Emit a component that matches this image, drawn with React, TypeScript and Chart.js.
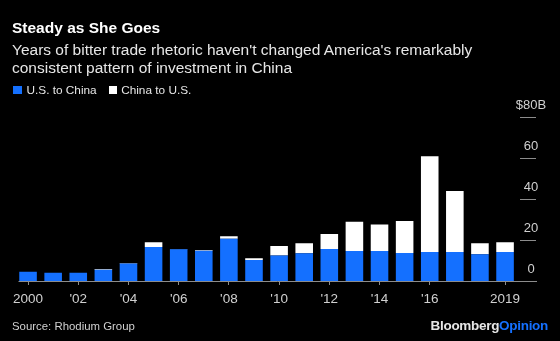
import React, { useEffect, useRef } from "react";
import { Chart, registerables } from "chart.js";

Chart.register(...registerables);

const years = ["2000","2001","2002","2003","2004","2005","2006","2007","2008","2009","2010","2011","2012","2013","2014","2015","2016","2017","2018","2019"];
const xTickLabels: Record<string, string> = { "2000": "2000", "2002": "'02", "2004": "'04", "2006": "'06", "2008": "'08", "2010": "'10", "2012": "'12", "2014": "'14", "2016": "'16", "2019": "2019" };
const usToChina = [4.5, 4.0, 4.0, 5.5, 8.5, 16.6, 15.5, 14.8, 20.6, 10.2, 12.5, 13.5, 15.6, 14.6, 14.6, 13.7, 14.1, 14.1, 13.0, 14.1];
const chinaToUS = [0, 0, 0, 0.3, 0.3, 2.3, 0.1, 0.3, 1.2, 0.9, 4.6, 4.9, 7.3, 14.3, 13.0, 15.6, 46.7, 29.8, 5.4, 4.8];
const yTicks = [0, 20, 40, 60, 80];
const yTickLabels = ["0", "20", "40", "60", "$80B"];

const BLUE = "#1470ff";
const FONT = "'Liberation Sans', Arial, Helvetica, sans-serif";

const rightAxisPlugin = {
  id: "rightAxis",
  afterDraw(chart: any) {
    const ctx = chart.ctx;
    const y = chart.scales.y;
    const area = chart.chartArea;
    ctx.save();
    ctx.strokeStyle = "#8c8c8c";
    ctx.lineWidth = 1;
    const y0 = Math.round(y.getPixelForValue(0)) + 0.5;
    ctx.beginPath();
    ctx.moveTo(area.left + 3, y0);
    ctx.lineTo(537, y0);
    ctx.stroke();
    ctx.fillStyle = "#d0d0d0";
    ctx.font = "13px " + FONT;
    ctx.textAlign = "center";
    ctx.textBaseline = "middle";
    yTicks.forEach((v, i) => {
      const py = Math.round(y.getPixelForValue(v)) + 0.5;
      if (v !== 0) {
        ctx.beginPath();
        ctx.moveTo(520, py);
        ctx.lineTo(536, py);
        ctx.stroke();
      }
      ctx.fillText(yTickLabels[i], 531, py - 12);
    });
    ctx.restore();
  },
};

export default function App() {
  const ref = useRef<HTMLCanvasElement | null>(null);
  useEffect(() => {
    document.body.style.margin = "0";
    document.body.style.background = "#000";
    const chart = new Chart(ref.current!, {
      type: "bar",
      data: {
        labels: years,
        datasets: [
          { label: "U.S. to China", data: usToChina, backgroundColor: BLUE, borderWidth: 0, barPercentage: 0.7, categoryPercentage: 1 },
          { label: "China to U.S.", data: chinaToUS, backgroundColor: "#ffffff", borderWidth: 0, barPercentage: 0.7, categoryPercentage: 1 },
        ],
      },
      options: {
        responsive: false,
        animation: false,
        layout: { padding: { left: 15.5, right: 42.4, top: 117, bottom: 0 } },
        plugins: { legend: { display: false }, tooltip: { enabled: false } },
        scales: {
          x: {
            stacked: true,
            afterFit: (s: any) => { s.height = 60; },
            border: { display: false },
            grid: {
              offset: false,
              drawOnChartArea: false,
              drawTicks: true,
              tickLength: 4,
              color: (c: any) => (xTickLabels[years[c.index]] ? "#8c8c8c" : "rgba(0,0,0,0)"),
            },
            ticks: {
              autoSkip: false,
              maxRotation: 0,
              padding: 6,
              color: "#d0d0d0",
              font: { family: FONT, size: 13.5 },
              callback: (_v: any, i: number) => xTickLabels[years[i]] || "",
            },
          },
          y: { stacked: true, display: false, min: 0, max: 80 },
        },
      },
      plugins: [rightAxisPlugin],
    });
    return () => chart.destroy();
  }, []);

  return (
    <div style={{ position: "fixed", left: 0, top: 0, width: 560, height: 341, background: "#000", fontFamily: FONT, overflow: "hidden" }}>
      <canvas ref={ref} width={560} height={341} style={{ position: "absolute", left: 0, top: 0 }} />
      <div style={{ position: "absolute", left: 12, top: 18, color: "#fff", fontWeight: "bold", fontSize: 15.5, lineHeight: "20px" }}>Steady as She Goes</div>
      <div style={{ position: "absolute", left: 12, top: 41, width: 545, color: "#e6e6e6", fontSize: 15.5, lineHeight: "17.5px" }}>
        Years of bitter trade rhetoric haven't changed America's remarkably<br />consistent pattern of investment in China
      </div>
      <div style={{ position: "absolute", left: 13, top: 82, color: "#e6e6e6", fontSize: 11.8, lineHeight: "16px", display: "flex", alignItems: "center" }}>
        <span style={{ display: "inline-block", width: 8.5, height: 8.5, background: BLUE, marginRight: 5 }} />
        <span>U.S. to China</span>
        <span style={{ display: "inline-block", width: 8.5, height: 8.5, background: "#fff", marginLeft: 12, marginRight: 4 }} />
        <span>China to U.S.</span>
      </div>
      <div style={{ position: "absolute", left: 12, top: 318, color: "#d0d0d0", fontSize: 11.4, lineHeight: "16px" }}>Source: Rhodium Group</div>
      <div style={{ position: "absolute", right: 12, top: 318, fontSize: 13.5, lineHeight: "16px", fontWeight: "bold", letterSpacing: -0.3 }}>
        <span style={{ color: "#e6e6e6" }}>Bloomberg</span><span style={{ color: BLUE }}>Opinion</span>
      </div>
    </div>
  );
}
